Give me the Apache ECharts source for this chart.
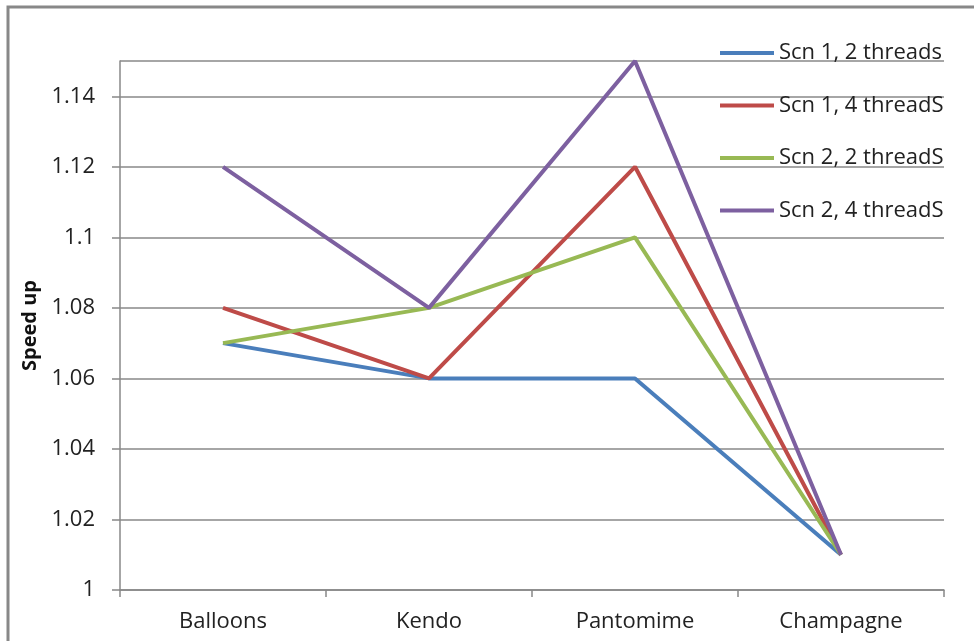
<!DOCTYPE html>
<html>
<head>
<meta charset="utf-8">
<script src="https://cdn.jsdelivr.net/npm/echarts@6/dist/echarts.min.js"></script>
<style>
  html, body { margin: 0; padding: 0; background: #fff; }
  #chart { width: 974px; height: 641px; }
</style>
</head>
<body>
<div id="chart"></div>
<script>
// values
var categories = ['Balloons', 'Kendo', 'Pantomime', 'Champagne'];
var scn1_2threads = [1.07, 1.06, 1.06, 1.01];
var scn1_4threads = [1.08, 1.06, 1.12, 1.01];
var scn2_2threads = [1.07, 1.08, 1.10, 1.01];
var scn2_4threads = [1.12, 1.08, 1.15, 1.01];
var seriesNames = ['Scn 1, 2 threads', 'Scn 1, 4 threadS', 'Scn 2, 2 threadS', 'Scn 2, 4 threadS'];
var colors = ['#4a7ebb', '#be4b48', '#98b954', '#7d60a0'];

var fontName = '"Open Sans", Lato, sans-serif';
var allData = [scn1_2threads, scn1_4threads, scn2_2threads, scn2_4threads];

var series = [];
for (var i = 0; i < allData.length; i++) {
    series.push({
        name: seriesNames[i],
        type: 'line',
        data: allData[i],
        symbol: 'none',
        lineStyle: { width: 4, color: colors[i] },
        itemStyle: { color: colors[i] }
    });
}

var chart = echarts.init(document.getElementById('chart'));
var option = {
    animation: false,
    backgroundColor: '#fff',
    graphic: [{
        type: 'rect',
        shape: { x: 8, y: 7, width: 1000, height: 700 },
        style: { fill: 'none', stroke: '#888', lineWidth: 3 },
        silent: true
    }],
    legend: {
        orient: 'vertical',
        left: 715,
        top: 37,
        itemWidth: 54,
        itemHeight: 4,
        itemGap: 30.5,
        icon: 'rect',
        data: seriesNames,
        textStyle: { fontFamily: fontName, fontSize: 22, color: '#222' }
    },
    grid: {
        left: 120,
        right: 30,
        top: 61,
        bottom: 51,
        containLabel: false
    },
    xAxis: {
        type: 'category',
        data: categories,
        boundaryGap: true,
        axisLine: { lineStyle: { color: '#888', width: 1.5 } },
        axisTick: { show: true, length: 7, lineStyle: { color: '#888', width: 1.5 } },
        axisLabel: { fontFamily: fontName, fontSize: 22, color: '#222', margin: 21 }
    },
    yAxis: {
        type: 'value',
        name: 'Speed up',
        nameLocation: 'middle',
        nameGap: 80,
        nameRotate: 90,
        nameTextStyle: { fontFamily: fontName, fontSize: 20, fontWeight: 'bold', color: '#111' },
        min: 1,
        max: 1.15,
        interval: 0.02,
        axisLine: { show: true, lineStyle: { color: '#888', width: 1.5 } },
        axisTick: { show: true, length: 8, lineStyle: { color: '#888', width: 1.5 } },
        axisLabel: {
            fontFamily: fontName, fontSize: 22, color: '#222', margin: 25,
            showMaxLabel: false,
            formatter: function (v) { return Math.abs(v - 1.15) < 1e-9 ? '' : String(+v.toFixed(2)); }
        },
        splitLine: {
            show: true,
            lineStyle: { color: '#888', width: 1.5 }
        }
    },
    series: series
};
chart.setOption(option);
</script>
</body>
</html>
